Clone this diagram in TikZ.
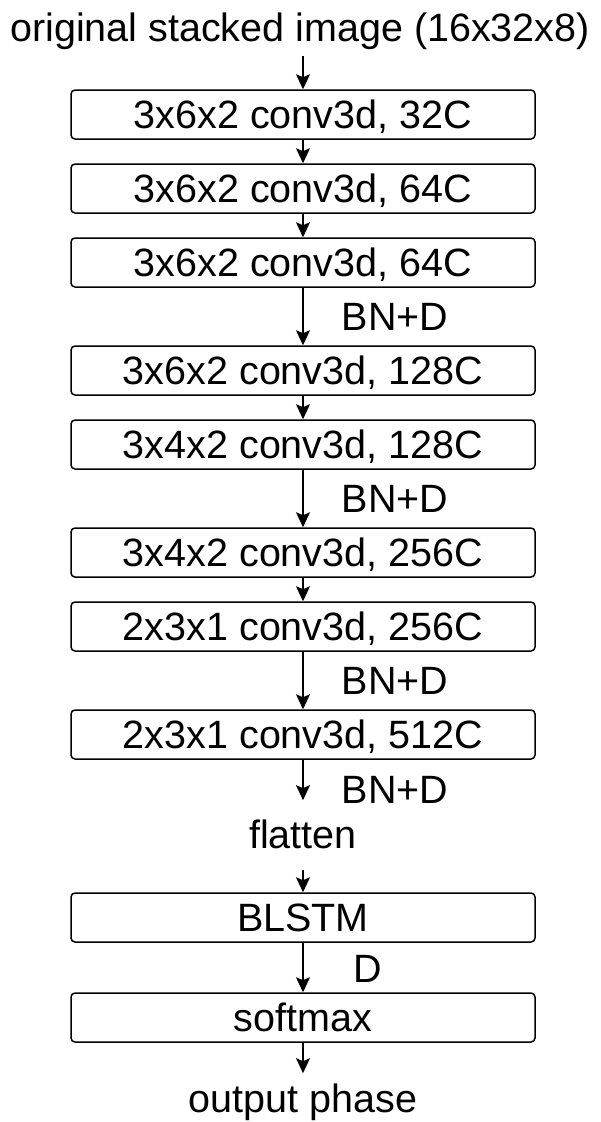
\documentclass[tikz,border=0pt]{standalone}
\usepackage{fontspec}
\setmainfont{Liberation Sans}
\usetikzlibrary{arrows.meta}
\begin{document}
\begin{tikzpicture}[x=1pt,y=-1pt,
  every node/.style={font=\fontsize{39.5}{44}\selectfont},
  layer/.style={draw, line width=1.5pt, rounded corners=4pt, minimum width=464pt, minimum height=49pt, inner sep=0pt, text height=28pt, text depth=0pt},
  lbl/.style={inner sep=0pt, anchor=base},
  arr/.style={line width=1.6pt, -{Stealth[length=15pt,width=14pt,inset=3pt]}}]
\useasboundingbox (0,0) rectangle (600,1122);
\node[lbl] (title) at (300,41) {original stacked image (16x32x8)};
\node[layer] (b1) at (303,114.5) {3x6x2 conv3d, 32C};
\node[layer] (b2) at (303,188.5) {3x6x2 conv3d, 64C};
\node[layer] (b3) at (303,262.5) {3x6x2 conv3d, 64C};
\node[lbl] (bnd1) at (395,330) {BN+D};
\node[layer] (b4) at (303,370.5) {3x6x2 conv3d, 128C};
\node[layer] (b5) at (303,444.5) {3x4x2 conv3d, 128C};
\node[lbl] (bnd2) at (395,512) {BN+D};
\node[layer] (b6) at (303,552.5) {3x4x2 conv3d, 256C};
\node[layer] (b7) at (303,626.5) {2x3x1 conv3d, 256C};
\node[lbl] (bnd3) at (395,694) {BN+D};
\node[layer] (b8) at (303,734.5) {2x3x1 conv3d, 512C};
\node[lbl] (bnd4) at (395,803) {BN+D};
\node[lbl] (flat) at (303,848) {flatten};
\node[layer] (lstm) at (303,917.5) {BLSTM};
\node[lbl] (d) at (368,982) {D};
\node[layer] (soft) at (303,1017.5) {softmax};
\node[lbl] (out) at (303,1112) {output phase};
\draw[arr] ([yshift=-7pt]title.south -| b1.north) -- (b1.north);
\draw[arr] (b1) -- (b2);
\draw[arr] (b2) -- (b3);
\draw[arr] (b3) -- (b4);
\draw[arr] (b4) -- (b5);
\draw[arr] (b5) -- (b6);
\draw[arr] (b6) -- (b7);
\draw[arr] (b7) -- (b8);
\draw[arr] (b8.south) -- ([yshift=19pt]flat.north);
\draw[arr] ([yshift=-21pt]flat.south) -- (lstm.north);
\draw[arr] (lstm) -- (soft);
\draw[arr] (soft.south) -- ([yshift=10pt]out.north);
\end{tikzpicture}
\end{document}
